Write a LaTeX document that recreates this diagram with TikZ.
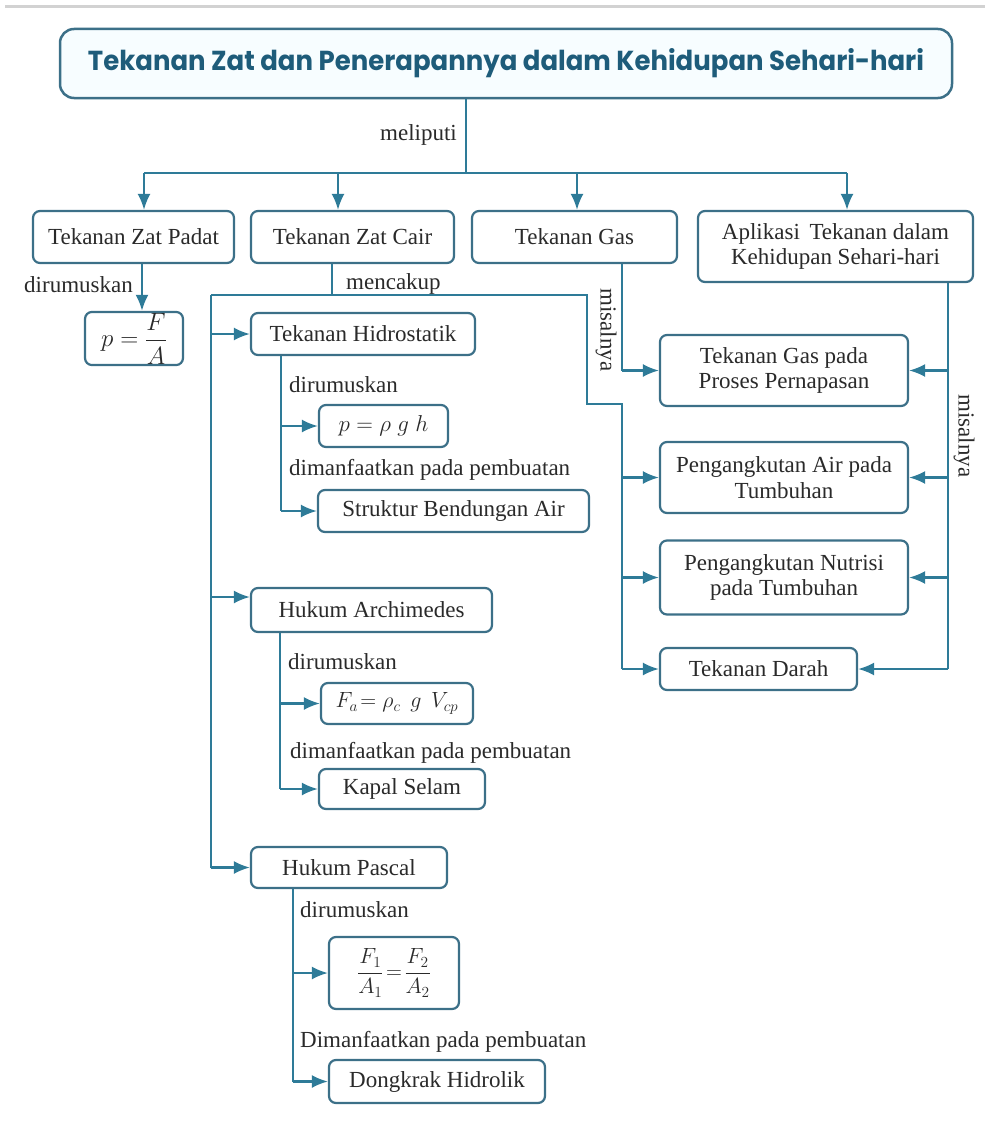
\RequirePackage{fix-cm}
\documentclass[tikz,border=0pt]{standalone}
\usepackage{graphicx}
\usepackage{amsmath}
\usepackage{fontspec}
\setmainfont{Liberation Serif}
\newfontfamily\titlefont{Poppins}
\usetikzlibrary{arrows.meta}
\definecolor{boxc}{HTML}{3C7088}
\definecolor{linec}{HTML}{2E7B98}
\definecolor{txt}{HTML}{2A2A2A}
\definecolor{titlec}{HTML}{1E5C7A}
\begin{document}
\begin{tikzpicture}[x=1pt,y=-1pt,
  box/.style={draw=boxc, line width=2.2pt, rounded corners=7pt, fill=white, align=center,
    inner sep=2pt, text=txt, font=\fontsize{23}{25.5}\selectfont},
  conn/.style={draw=linec, line width=2.2pt},
  arr/.style={conn, -{Latex[length=16pt,width=13pt,inset=4pt]}},
  lbl/.style={text=txt, inner sep=0pt, font=\fontsize{23}{25}\selectfont}]
\useasboundingbox (0,0) rectangle (985,1124);
\draw[line width=3pt, draw=gray!35] (5,7) -- (985,7);

% title
\node[box, line width=2.5pt, rounded corners=14pt, minimum width=892, minimum height=69, text=titlec, fill=cyan!3]
  (title) at (506,63.5) {\resizebox{836pt}{22pt}{\titlefont\bfseries Tekanan Zat dan Penerapannya dalam Kehidupan Sehari-hari}};
\node[lbl, anchor=east] (lmel) at (457,135) {meliputi};

% row 1
\node[box, minimum width=201, minimum height=52] (padat) at (133.5,237) {Tekanan Zat Padat};
\node[box, minimum width=203, minimum height=52] (cair) at (352.5,237) {Tekanan Zat Cair};
\node[box, minimum width=205, minimum height=52] (gas) at (574.5,237) {Tekanan Gas};
\node[box, minimum width=275, minimum height=71] (apl) at (835.5,246.5) {Aplikasi\, Tekanan dalam\\Kehidupan Sehari-hari};

% padat
\node[lbl, anchor=east] (ldir1) at (133,285) {dirumuskan};
\node[box, minimum width=98, minimum height=53, inner sep=1pt] (rumus1) at (134,338.5) {\fontsize{25}{28}\selectfont$p=\dfrac{F}{A}$};

% cair
\node[lbl, anchor=west] (lmen) at (346,284) {mencakup};
\node[box, minimum width=224, minimum height=42] (hidro) at (363,334) {Tekanan Hidrostatik};
\node[lbl, anchor=west] (ldir2) at (289,385) {dirumuskan};
\node[box, minimum width=129, minimum height=42] (rumus2) at (383.5,426) {\fontsize{23}{26}\selectfont$p=\rho\; g\; h$};
\node[lbl, anchor=west] (lman2) at (289,470) {dimanfaatkan pada pembuatan};
\node[box, minimum width=271, minimum height=42] (struktur) at (453.5,511) {Struktur Bendungan Air};

\node[box, minimum width=241, minimum height=44] (archi) at (371.5,610) {Hukum Archimedes};
\node[lbl, anchor=west] (ldir3) at (288,662) {dirumuskan};
\node[box, minimum width=152, minimum height=41] (rumus3) at (397,703.5) {\fontsize{22}{26}\selectfont$F_a\!=\rho_c\;\, g\;\, V_{cp}$};
\node[lbl, anchor=west] (lman3) at (290,753) {dimanfaatkan pada pembuatan};
\node[box, minimum width=166, minimum height=40] (kapal) at (402,789) {Kapal Selam};

\node[box, minimum width=196, minimum height=41] (pascal) at (349,867.5) {Hukum Pascal};
\node[lbl, anchor=west] (ldir4) at (300,910) {dirumuskan};
\node[box, minimum width=130, minimum height=72] (rumus4) at (394,973) {\fontsize{22}{26}\selectfont$\dfrac{F_1}{A_1}\!=\!\dfrac{F_2}{A_2}$};
\node[lbl, anchor=west] (lman4) at (300,1042) {Dimanfaatkan pada pembuatan};
\node[box, minimum width=216, minimum height=43] (dongkrak) at (437,1081.5) {Dongkrak Hidrolik};

% right column
\node[box, minimum width=248, minimum height=71] (gaspada) at (784,370.5) {Tekanan Gas pada\\Proses Pernapasan};
\node[box, minimum width=248, minimum height=71] (air) at (784,477.5) {Pengangkutan Air pada\\Tumbuhan};
\node[box, minimum width=248, minimum height=74] (nutrisi) at (784,577.5) {Pengangkutan Nutrisi\\pada Tumbuhan};
\node[box, minimum width=197, minimum height=42] (darah) at (758.5,669) {Tekanan Darah};
\node[lbl, rotate=-90] (lmis1) at (606,330) {misalnya};
\node[lbl, rotate=-90] (lmis2) at (964,436) {misalnya};

% connectors: title
\coordinate (bt) at (466,173);
\draw[conn] (title.south -| bt) -- (bt);
\coordinate (b1) at (144,173); \coordinate (b2) at (338,173);
\coordinate (b3) at (577,173); \coordinate (b4) at (847,173);
\draw[conn] (b1) -- (b4);
\draw[arr] (b1) -- (b1 |- padat.north);
\draw[arr] (b2) -- (b2 |- cair.north);
\draw[arr] (b3) -- (b3 |- gas.north);
\draw[arr] (b4) -- (b4 |- apl.north);

% padat
\coordinate (pd) at (142,0);
\draw[arr] (padat.south -| pd) -- (rumus1.north -| pd);

% cair
\coordinate (c1) at (332,295);
\draw[conn] (cair.south -| c1) -- (c1);
\coordinate (cl) at (211,295); \coordinate (cr) at (587,295);
\coordinate (cr2) at (587,404); \coordinate (cr3) at (622,404); \coordinate (cr4) at (622,669);
\draw[conn] (cl) -- (cr) -- (cr2) -- (cr3) -- (cr4);
\draw[arr] (cr4) -- (darah.west);
\draw[arr] (cr3 |- air.west) -- (air.west);
\draw[arr] (cr3 |- nutrisi.west) -- (nutrisi.west);
\draw[conn] (cl) -- (cl |- pascal.west);
\draw[arr] (cl |- hidro.west) -- (hidro.west);
\coordinate (a597) at (211,597);
\draw[arr] (a597) -- (a597 -| archi.west);
\draw[arr] (cl |- pascal.west) -- (pascal.west);

% gas
\coordinate (g1) at (622,370.5);
\draw[conn] (gas.south -| g1) -- (g1);
\draw[arr] (g1) -- (gaspada.west);

% aplikasi
\coordinate (r1) at (948,669);
\draw[conn] (apl.south -| r1) -- (r1);
\draw[arr] (r1) -- (darah.east);
\draw[arr] (r1 |- gaspada.east) -- (gaspada.east);
\draw[arr] (r1 |- air.east) -- (air.east);
\draw[arr] (r1 |- nutrisi.east) -- (nutrisi.east);

% hidrostatik subtree
\coordinate (h1) at (281,0);
\draw[conn] (hidro.south -| h1) -- (h1 |- struktur.west);
\draw[arr] (h1 |- rumus2.west) -- (rumus2.west);
\draw[arr] (h1 |- struktur.west) -- (struktur.west);

% archimedes subtree
\coordinate (h2) at (280,0);
\draw[conn] (archi.south -| h2) -- (h2 |- kapal.west);
\draw[arr] (h2 |- rumus3.west) -- (rumus3.west);
\draw[arr] (h2 |- kapal.west) -- (kapal.west);

% pascal subtree
\coordinate (h3) at (293,0);
\draw[conn] (pascal.south -| h3) -- (h3 |- dongkrak.west);
\draw[arr] (h3 |- rumus4.west) -- (rumus4.west);
\draw[arr] (h3 |- dongkrak.west) -- (dongkrak.west);
\end{tikzpicture}
\end{document}
